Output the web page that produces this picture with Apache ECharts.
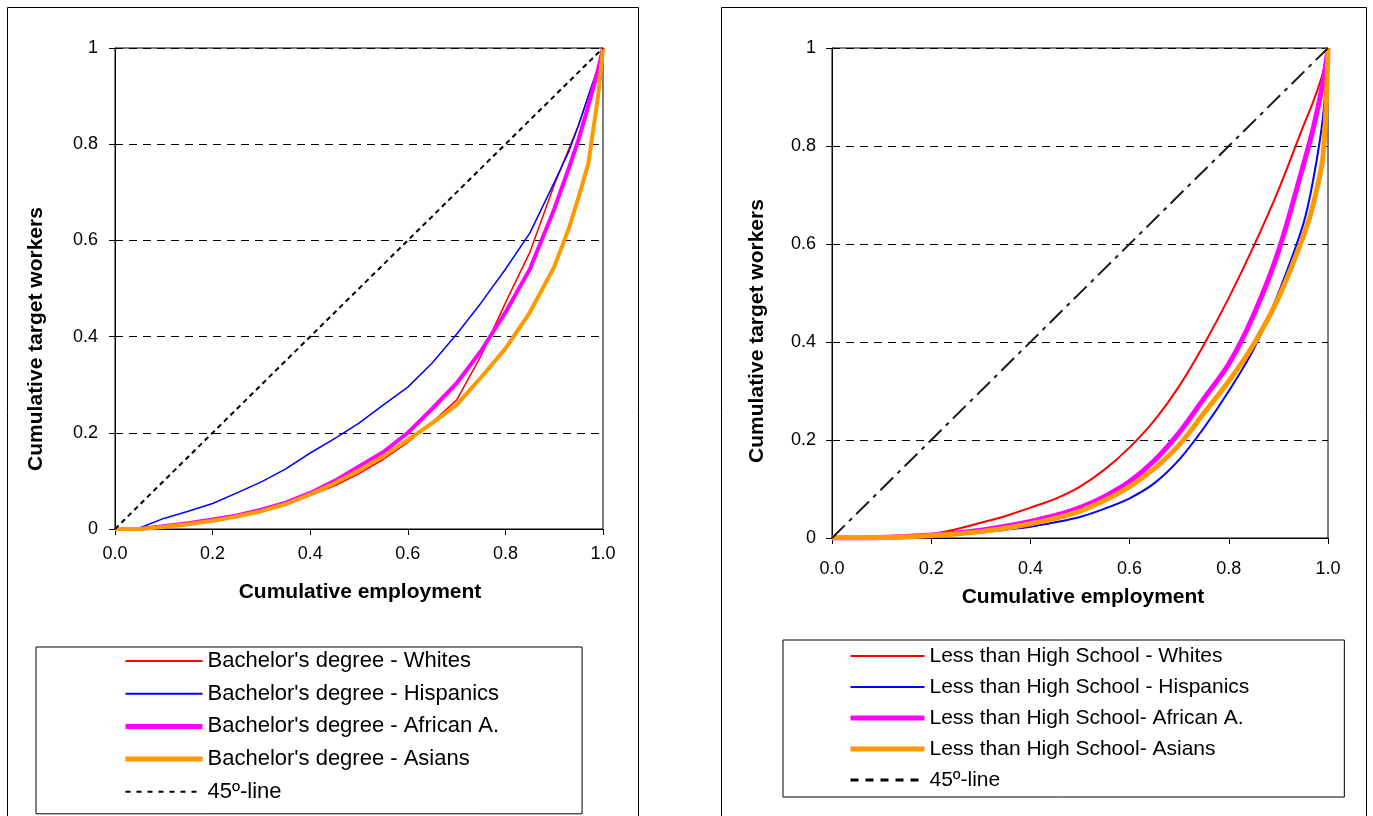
<!DOCTYPE html>
<html>
<head>
<meta charset="utf-8">
<script src="https://cdn.jsdelivr.net/npm/echarts@6/dist/echarts.min.js"></script>
<style>
  html, body { margin: 0; padding: 0; background: #fff; overflow: hidden; }
  #chart { width: 1373px; height: 816px; }
</style>
</head>
<body>
<div id="chart"></div>
<script>
const FONT = '"Liberation Sans", Arial, Helvetica, sans-serif';

// ---- Bachelor's degree: cumulative employment vs cumulative target workers ----
const bachX        = [0, 0.05, 0.10, 0.15, 0.20, 0.25, 0.30, 0.35, 0.40, 0.45, 0.50, 0.55, 0.60, 0.65, 0.70, 0.75, 0.80, 0.85, 0.90, 0.93, 0.95, 0.97, 0.99, 1.00];
const bachWhites   = [0, 0.000, 0.005, 0.010, 0.017, 0.025, 0.036, 0.050, 0.070, 0.090, 0.115, 0.145, 0.180, 0.222, 0.268, 0.360, 0.470, 0.575, 0.715, 0.790, 0.840, 0.900, 0.960, 1.000];
const bachHispanic = [0, 0.002, 0.022, 0.037, 0.053, 0.075, 0.098, 0.125, 0.158, 0.188, 0.220, 0.258, 0.295, 0.345, 0.405, 0.470, 0.540, 0.615, 0.720, 0.785, 0.840, 0.900, 0.960, 1.000];
const bachAfrican  = [0, 0.000, 0.006, 0.012, 0.020, 0.028, 0.040, 0.055, 0.075, 0.100, 0.130, 0.160, 0.200, 0.250, 0.303, 0.370, 0.450, 0.540, 0.665, 0.750, 0.810, 0.880, 0.955, 1.000];
const bachAsian    = [0, 0.000, 0.004, 0.010, 0.017, 0.026, 0.037, 0.052, 0.072, 0.095, 0.122, 0.152, 0.185, 0.220, 0.258, 0.315, 0.375, 0.450, 0.545, 0.625, 0.690, 0.760, 0.900, 1.000];

// ---- Less than High School ----
const lhsX         = [0, 0.05, 0.10, 0.15, 0.20, 0.25, 0.30, 0.35, 0.40, 0.45, 0.50, 0.55, 0.60, 0.65, 0.70, 0.75, 0.80, 0.85, 0.90, 0.95, 0.97, 0.99, 1.00];
const lhsWhites    = [0, 0.001, 0.002, 0.004, 0.008, 0.018, 0.031, 0.045, 0.062, 0.080, 0.105, 0.140, 0.185, 0.240, 0.310, 0.395, 0.490, 0.595, 0.710, 0.840, 0.890, 0.950, 1.000];
const lhsHispanic  = [0, 0.000, 0.001, 0.002, 0.004, 0.007, 0.011, 0.017, 0.023, 0.032, 0.043, 0.060, 0.081, 0.112, 0.160, 0.225, 0.300, 0.385, 0.500, 0.640, 0.730, 0.860, 1.000];
const lhsAfrican   = [0, 0.000, 0.001, 0.003, 0.006, 0.010, 0.016, 0.024, 0.034, 0.046, 0.062, 0.085, 0.115, 0.158, 0.215, 0.285, 0.355, 0.455, 0.585, 0.760, 0.835, 0.930, 1.000];
const lhsAsian     = [0, 0.000, 0.001, 0.002, 0.005, 0.008, 0.013, 0.020, 0.029, 0.040, 0.055, 0.077, 0.105, 0.142, 0.190, 0.255, 0.320, 0.395, 0.490, 0.615, 0.680, 0.780, 1.000];

// 45-degree reference line (equal distribution)
const diagX = [0, 1];
const diagY = [0, 1];

// Legend / series labels
const bachNames = ["Bachelor's degree - Whites", "Bachelor's degree - Hispanics", "Bachelor's degree - African A.", "Bachelor's degree - Asians", "45º-line"];
const lhsNames  = ["Less than High School - Whites", "Less than High School - Hispanics", "Less than High School- African A.", "Less than High School- Asians", "45º-line "];

const xTitle = 'Cumulative employment';
const yTitle = 'Cumulative target workers';

const pairs = (xs, ys) => xs.map((x, i) => [x, ys[i]]);

const RED = '#ff0000', BLUE = '#0000ff', MAGENTA = '#ff00ff', ORANGE = '#ff9900';

function xAxis(gridIndex, margin) {
  return {
    type: 'value', gridIndex, min: 0, max: 1, interval: 0.2,
    axisLine: { show: true, lineStyle: { color: '#000', width: 1 } },
    axisTick: { show: true, length: 6, lineStyle: { color: '#000' } },
    axisLabel: { color: '#000', fontSize: 18, fontFamily: FONT, margin, formatter: v => v.toFixed(1) },
    splitLine: { show: false }
  };
}
function yAxis(gridIndex, margin) {
  return {
    type: 'value', gridIndex, min: 0, max: 1, interval: 0.2,
    axisLine: { show: true, lineStyle: { color: '#000', width: 1 } },
    axisTick: { show: true, length: 6, lineStyle: { color: '#000' } },
    axisLabel: { color: '#000', fontSize: 18, fontFamily: FONT, margin, formatter: v => String(+v.toFixed(1)) },
    splitLine: { show: true, lineStyle: { color: '#000', width: 1, type: [8, 6] } }
  };
}
function curve(name, idx, xs, ys, color, width, extra) {
  return Object.assign({
    name, type: 'line', xAxisIndex: idx, yAxisIndex: idx,
    data: pairs(xs, ys), symbol: 'none', showSymbol: false, silent: true, animation: false,
    lineStyle: { color, width }, itemStyle: { color }
  }, extra || {});
}
function legendItem(name, color, width, type) {
  return { name, itemStyle: { opacity: 0 }, lineStyle: { color, width, type: type || 'solid', opacity: 1 } };
}

const smoothOpt = { smooth: 0.3 };

const option = {
  backgroundColor: '#fff',
  animation: false,
  grid: [
    { left: 115, top: 48, width: 488, height: 481, show: true, borderColor: '#000', borderWidth: 1, backgroundColor: 'transparent' },
    { left: 832, top: 48, width: 496, height: 490, show: true, borderColor: '#000', borderWidth: 1, backgroundColor: 'transparent' }
  ],
  xAxis: [xAxis(0, 16), xAxis(1, 22)],
  yAxis: [yAxis(0, 17), yAxis(1, 16)],
  legend: [
    {
      left: 36, top: 647, orient: 'vertical', selectedMode: false,
      itemWidth: 77, itemHeight: 14, itemGap: 10.7,
      padding: [3, 83, 11, 87],
      borderColor: '#000', borderWidth: 1,
      itemStyle: { opacity: 0 },
      textStyle: { fontSize: 22, fontFamily: FONT, color: '#000', lineHeight: 22 },
      data: [
        legendItem(bachNames[0], RED, 2),
        legendItem(bachNames[1], BLUE, 2),
        legendItem(bachNames[2], MAGENTA, 5),
        legendItem(bachNames[3], ORANGE, 5),
        legendItem(bachNames[4], '#000', 2, [5, 6])
      ]
    },
    {
      left: 783, top: 640, orient: 'vertical', selectedMode: false,
      itemWidth: 74, itemHeight: 14, itemGap: 9,
      padding: [5, 95, 6, 65],
      borderColor: '#000', borderWidth: 1,
      itemStyle: { opacity: 0 },
      textStyle: { fontSize: 21, fontFamily: FONT, color: '#000', lineHeight: 22 },
      formatter: n => n.trim(),
      data: [
        legendItem(lhsNames[0], RED, 2),
        legendItem(lhsNames[1], BLUE, 2),
        legendItem(lhsNames[2], MAGENTA, 5),
        legendItem(lhsNames[3], ORANGE, 5),
        legendItem(lhsNames[4], '#000', 3, [8, 7])
      ]
    }
  ],
  graphic: [
    { type: 'rect', silent: true, shape: { x: 7.5, y: 7.5, width: 631, height: 830 }, style: { fill: 'none', stroke: '#000', lineWidth: 1 } },
    { type: 'rect', silent: true, shape: { x: 721.5, y: 7.5, width: 645, height: 830 }, style: { fill: 'none', stroke: '#000', lineWidth: 1 } },
    { type: 'text', x: 360, y: 592, silent: true,
      style: { text: xTitle, font: 'bold 21px ' + FONT, fill: '#000', textAlign: 'center', textVerticalAlign: 'middle', align: 'center', verticalAlign: 'middle' } },
    { type: 'text', x: 1083, y: 597, silent: true,
      style: { text: xTitle, font: 'bold 21px ' + FONT, fill: '#000', textAlign: 'center', textVerticalAlign: 'middle', align: 'center', verticalAlign: 'middle' } },
    { type: 'text', x: 36, y: 339, rotation: Math.PI / 2, silent: true,
      style: { text: yTitle, font: 'bold 21px ' + FONT, fill: '#000', textAlign: 'center', textVerticalAlign: 'middle', align: 'center', verticalAlign: 'middle' } },
    { type: 'text', x: 757, y: 331, rotation: Math.PI / 2, silent: true,
      style: { text: yTitle, font: 'bold 21px ' + FONT, fill: '#000', textAlign: 'center', textVerticalAlign: 'middle', align: 'center', verticalAlign: 'middle' } }
  ],
  series: [
    curve(bachNames[0], 0, bachX, bachWhites, RED, 1.5),
    curve(bachNames[1], 0, bachX, bachHispanic, BLUE, 1.5),
    curve(bachNames[2], 0, bachX, bachAfrican, MAGENTA, 4),
    curve(bachNames[3], 0, bachX, bachAsian, ORANGE, 4),
    curve(bachNames[4], 0, diagX, diagY, '#000', 2, { lineStyle: { color: '#000', width: 2, type: [5, 4] } }),

    curve(lhsNames[0], 1, lhsX, lhsWhites, RED, 2, smoothOpt),
    curve(lhsNames[1], 1, lhsX, lhsHispanic, BLUE, 2, smoothOpt),
    curve(lhsNames[2], 1, lhsX, lhsAfrican, MAGENTA, 5, smoothOpt),
    curve(lhsNames[3], 1, lhsX, lhsAsian, ORANGE, 5, smoothOpt),
    curve(lhsNames[4], 1, diagX, diagY, '#1a1a1a', 2, { lineStyle: { color: '#1a1a1a', width: 2, type: [18, 6, 4, 6] } })
  ]
};

const chart = echarts.init(document.getElementById('chart'), null, { renderer: 'canvas' });
chart.setOption(option);
</script>
</body>
</html>
